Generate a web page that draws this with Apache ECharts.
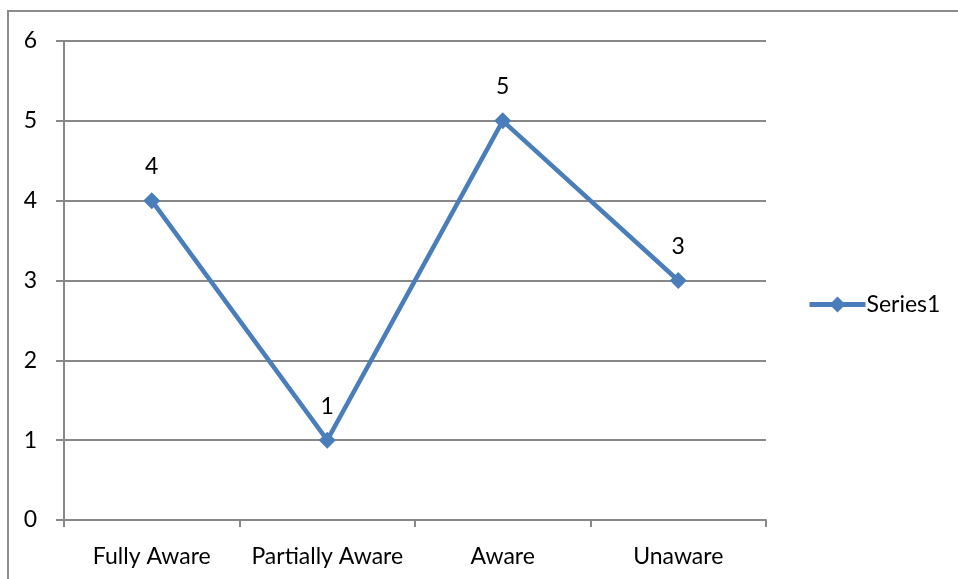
<!DOCTYPE html>
<html>
<head>
<meta charset="utf-8">
<script src="https://cdn.jsdelivr.net/npm/echarts@6/dist/echarts.min.js"></script>
<style>
  html, body { margin: 0; padding: 0; background: #fff; }
  #wrap { position: relative; width: 958px; height: 579px; overflow: hidden; }
  #frame { position: absolute; left: 7px; top: 10px; width: 1000px; height: 700px; border: 2px solid #8c8c8c; box-sizing: border-box; }
  #chart { position: absolute; left: 0; top: 0; width: 958px; height: 579px; }
</style>
</head>
<body>
<div id="wrap">
  <div id="frame"></div>
  <div id="chart"></div>
</div>
<script>
const categories = ['Fully Aware', 'Partially Aware', 'Aware', 'Unaware'];
const series1 = [4, 1, 5, 3];
const seriesName = 'Series1';

const FONT = 'Lato, "Open Sans", sans-serif';
const FONT_SIZE = 23;
const LINE = '#4a7ebb';
const GRID = '#888888';

const chart = echarts.init(document.getElementById('chart'), null, { renderer: 'canvas' });
chart.setOption({
  animation: false,
  backgroundColor: 'transparent',
  grid: { left: 64, right: 192, top: 41, bottom: 59, containLabel: false },
  legend: {
    data: [seriesName],
    left: 802, top: 288,
    itemWidth: 56, itemHeight: 20, itemGap: 4,
    lineStyle: { width: 5 },
    textStyle: { fontFamily: FONT, fontSize: FONT_SIZE, color: '#000', padding: [0, 0, 0, -4] }
  },
  xAxis: {
    type: 'category',
    data: categories,
    boundaryGap: true,
    axisLine: { lineStyle: { color: GRID, width: 2 } },
    axisTick: { show: true, interval: 0, length: 7, lineStyle: { color: GRID, width: 2 } },
    axisLabel: { interval: 0, fontFamily: FONT, fontSize: FONT_SIZE, color: '#000', margin: 25 }
  },
  yAxis: {
    type: 'value',
    min: 0, max: 6, interval: 1,
    axisLine: { show: true, lineStyle: { color: GRID, width: 2 } },
    axisTick: { show: true, length: 8, lineStyle: { color: GRID, width: 2 } },
    axisLabel: { fontFamily: FONT, fontSize: FONT_SIZE, color: '#000', margin: 27 },
    splitLine: { show: true, lineStyle: { color: GRID, width: 2 } }
  },
  series: [{
    name: seriesName,
    type: 'line',
    data: series1,
    symbol: 'diamond',
    symbolSize: 17,
    lineStyle: { color: LINE, width: 4.5 },
    itemStyle: { color: LINE },
    label: {
      show: true, position: 'top', distance: 14,
      fontFamily: FONT, fontSize: FONT_SIZE, color: '#000'
    }
  }]
});
</script>
</body>
</html>
